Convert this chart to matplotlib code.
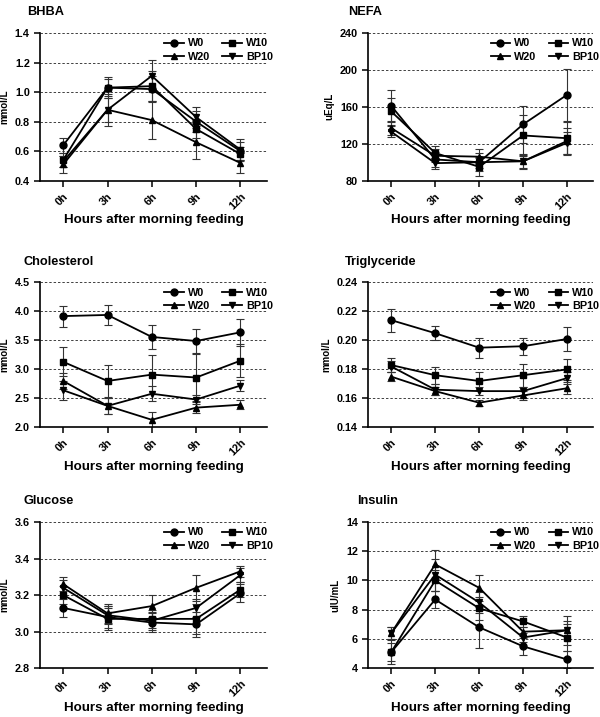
import matplotlib
matplotlib.use('Agg')
import matplotlib.pyplot as plt
from matplotlib.lines import Line2D
import numpy as np

plt.rcParams['font.family'] = ['Liberation Sans', 'DejaVu Sans']
plt.rcParams['font.weight'] = 'bold'

hours = ['0h', '3h', '6h', '9h', '12h']
groups = ['W0', 'W10', 'W20', 'BP10']
markers = ['o', 's', '^', 'v']

# BHBA (mmol/L)
bhba_mean = {'W0': [0.64, 1.03, 1.02, 0.80, 0.60],
             'W10': [0.54, 1.03, 1.04, 0.75, 0.58],
             'W20': [0.51, 0.88, 0.81, 0.66, 0.52],
             'BP10': [0.53, 0.88, 1.11, 0.83, 0.61]}
bhba_err = {'W0': [0.05, 0.07, 0.09, 0.07, 0.06],
            'W10': [0.05, 0.06, 0.10, 0.06, 0.05],
            'W20': [0.06, 0.11, 0.13, 0.11, 0.07],
            'BP10': [0.04, 0.08, 0.11, 0.07, 0.07]}

# NEFA (uEq/L)
nefa_mean = {'W0': [161, 103, 100, 141, 173],
             'W10': [155, 110, 95, 129, 126],
             'W20': [137, 107, 106, 101, 123],
             'BP10': [133, 99, 100, 101, 121]}
nefa_err = {'W0': [17, 8, 10, 20, 28],
            'W10': [15, 8, 10, 22, 18],
            'W20': [8, 7, 8, 7, 14],
            'BP10': [6, 6, 6, 8, 12]}

# Cholesterol (mmol/L)
chol_mean = {'W0': [3.92, 3.94, 3.56, 3.49, 3.64],
             'W10': [3.13, 2.80, 2.91, 2.86, 3.15],
             'W20': [2.80, 2.37, 2.13, 2.34, 2.39],
             'BP10': [2.64, 2.37, 2.58, 2.48, 2.72]}
chol_err = {'W0': [0.18, 0.18, 0.21, 0.21, 0.23],
            'W10': [0.25, 0.28, 0.33, 0.40, 0.28],
            'W20': [0.14, 0.14, 0.14, 0.10, 0.08],
            'BP10': [0.16, 0.14, 0.13, 0.07, 0.09]}

# Triglyceride (mmol/L)
tg_mean = {'W0': [0.214, 0.205, 0.195, 0.196, 0.201],
           'W10': [0.183, 0.176, 0.172, 0.176, 0.180],
           'W20': [0.175, 0.165, 0.157, 0.162, 0.167],
           'BP10': [0.182, 0.166, 0.165, 0.165, 0.174]}
tg_err = {'W0': [0.008, 0.005, 0.007, 0.006, 0.008],
          'W10': [0.005, 0.006, 0.006, 0.008, 0.007],
          'W20': [0.003, 0.003, 0.002, 0.003, 0.004],
          'BP10': [0.004, 0.004, 0.003, 0.003, 0.004]}

# Glucose (mmol/L)
glu_mean = {'W0': [3.13, 3.08, 3.05, 3.04, 3.21],
            'W10': [3.20, 3.07, 3.07, 3.07, 3.23],
            'W20': [3.26, 3.10, 3.14, 3.24, 3.33],
            'BP10': [3.24, 3.09, 3.06, 3.13, 3.31]}
glu_err = {'W0': [0.05, 0.06, 0.05, 0.07, 0.05],
           'W10': [0.05, 0.06, 0.05, 0.08, 0.04],
           'W20': [0.04, 0.05, 0.06, 0.07, 0.03],
           'BP10': [0.04, 0.05, 0.05, 0.05, 0.04]}

# Insulin (uIU/mL)
ins_mean = {'W0': [5.1, 8.7, 6.8, 5.5, 4.6],
            'W10': [5.1, 10.0, 8.1, 7.2, 6.1],
            'W20': [6.4, 11.1, 9.5, 6.5, 6.6],
            'BP10': [6.4, 10.4, 8.5, 6.1, 6.6]}
ins_err = {'W0': [0.8, 0.6, 1.4, 0.6, 0.6],
           'W10': [0.6, 0.7, 0.8, 0.4, 0.9],
           'W20': [0.4, 1.0, 0.9, 0.3, 1.0],
           'BP10': [0.4, 1.1, 0.7, 0.3, 0.6]}

panels = [
    ('BHBA', 'mmol/L', bhba_mean, bhba_err, [0.4, 0.6, 0.8, 1.0, 1.2, 1.4], '%.1f'),
    ('NEFA', 'uEq/L', nefa_mean, nefa_err, [80, 120, 160, 200, 240], '%d'),
    ('Cholesterol', 'mmol/L', chol_mean, chol_err, [2.0, 2.5, 3.0, 3.5, 4.0, 4.5], '%.1f'),
    ('Triglyceride', 'mmol/L', tg_mean, tg_err, [0.14, 0.16, 0.18, 0.20, 0.22, 0.24], '%.2f'),
    ('Glucose', 'mmol/L', glu_mean, glu_err, [2.8, 3.0, 3.2, 3.4, 3.6], '%.1f'),
    ('Insulin', 'uIU/mL', ins_mean, ins_err, [4, 6, 8, 10, 12, 14], '%d'),
]

# axes rectangles (fraction of figure)
rects = [[0.067, 0.748, 0.378, 0.206], [0.614, 0.748, 0.375, 0.206],
         [0.067, 0.404, 0.378, 0.202], [0.614, 0.404, 0.375, 0.202],
         [0.067, 0.068, 0.378, 0.204], [0.614, 0.068, 0.375, 0.204]]
title_x = [-0.057, -0.09, -0.075, -0.105, -0.075, -0.05]

fig = plt.figure(figsize=(6, 7.17), dpi=100)
x = np.arange(len(hours))

for i, (title, ylab, mean, err, yt, fmt) in enumerate(panels):
    ax = fig.add_axes(rects[i])
    for g, m in zip(groups, markers):
        ax.errorbar(x, mean[g], yerr=err[g], color='black', marker=m,
                    markersize=5, lw=1.3, elinewidth=0.8, capsize=3,
                    capthick=0.8, ecolor='0.2')
    ax.set_xlim(-0.52, 4.6)
    ax.set_ylim(yt[0], yt[-1])
    ax.set_yticks(yt)
    ax.set_yticklabels([fmt % v for v in yt])
    for v in yt[1:]:
        ax.axhline(v, color='0.25', lw=0.7, ls=(0, (2.5, 2)), zorder=0)
    ax.set_xticks(x)
    ax.set_xticklabels(hours, rotation=45, ha='right', rotation_mode='anchor')
    ax.tick_params(axis='both', direction='out', length=4, width=1.1, labelsize=7.8)
    ax.spines['top'].set_visible(False)
    ax.spines['right'].set_visible(False)
    ax.spines['left'].set_linewidth(1.2)
    ax.spines['bottom'].set_linewidth(1.2)
    ax.set_xlabel('Hours after morning feeding', fontsize=9.6, fontweight='bold', labelpad=2)
    ax.set_ylabel(ylab, fontsize=7, fontweight='bold', labelpad=4)
    ax.text(title_x[i], 1.1, title, transform=ax.transAxes, fontsize=9.2,
            fontweight='bold', ha='left', va='bottom')
    order = ['W0', 'W20', 'W10', 'BP10']
    handles = [Line2D([], [], color='black', lw=1.3, marker=markers[groups.index(g)],
                      markersize=5) for g in order]
    ax.legend(handles, order, ncol=2, frameon=False,
              loc='upper right', bbox_to_anchor=(1.07, 1.03), fontsize=7.8,
              handlelength=1.8, columnspacing=1.1, labelspacing=0.3,
              handletextpad=0.4)

fig.savefig('out.png', dpi=100)
